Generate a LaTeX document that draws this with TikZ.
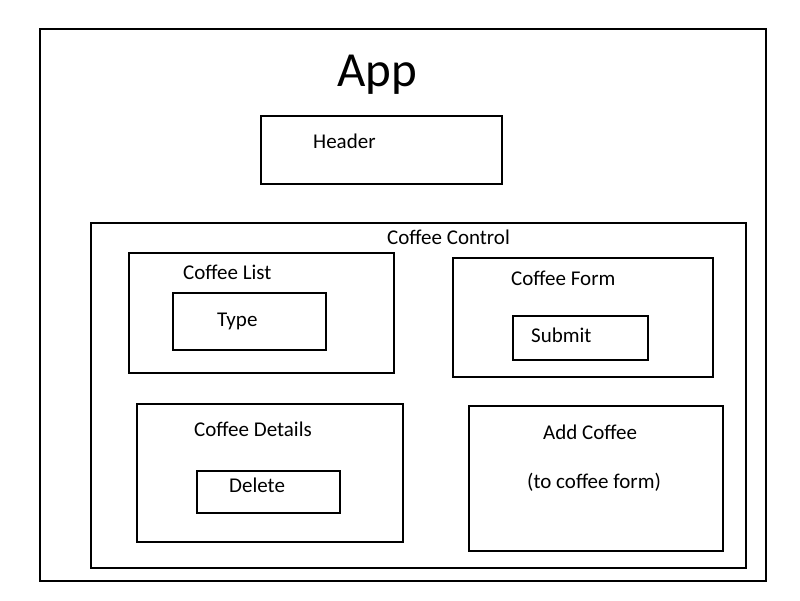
\documentclass[tikz,border=0pt]{standalone}
\usepackage{fontspec}
\setmainfont{Carlito}
\begin{document}
\begin{tikzpicture}[x=1pt,y=-1pt,
  box/.style={draw=black, line width=2pt, inner sep=0pt, anchor=north west},
  lbl/.style={inner sep=0pt, anchor=base west, font=\fontsize{21}{25}\selectfont},
  title/.style={inner sep=0pt, anchor=base west, font=\fontsize{49}{58}\selectfont}]
\useasboundingbox[fill=white] (0,0) rectangle (800,600);
% boxes
\node[box, minimum width=726pt, minimum height=552pt] (outer) at (39,28) {};
\node[box, minimum width=241pt, minimum height=68pt] (header) at (260,115) {};
\node[box, minimum width=655pt, minimum height=345pt] (control) at (90,222) {};
\node[box, minimum width=265pt, minimum height=120pt] (list) at (128,252) {};
\node[box, minimum width=153pt, minimum height=57pt] (type) at (172,292) {};
\node[box, minimum width=260pt, minimum height=119pt] (form) at (452,257) {};
\node[box, minimum width=135pt, minimum height=43.5pt] (submit) at (512,315) {};
\node[box, minimum width=265.5pt, minimum height=138pt] (details) at (136,403) {};
\node[box, minimum width=143pt, minimum height=42pt] (delete) at (196,470) {};
\node[box, minimum width=254pt, minimum height=145pt] (add) at (468,405) {};
% labels
\node[title] (tapp) at (337,86) {App};
\node[lbl] (theader) at (313,148) {Header};
\node[lbl] (tcontrol) at (387,244) {Coffee Control};
\node[lbl] (tlist) at (183,279) {Coffee List};
\node[lbl] (ttype) at (217,326) {Type};
\node[lbl] (tform) at (511,285) {Coffee Form};
\node[lbl] (tsubmit) at (531,342) {Submit};
\node[lbl] (tdetails) at (194,436) {Coffee Details};
\node[lbl] (tdelete) at (229,492) {Delete};
\node[lbl] (tadd) at (543,439) {Add Coffee};
\node[lbl] (tto) at (527,488) {(to coffee form)};
\end{tikzpicture}
\end{document}
